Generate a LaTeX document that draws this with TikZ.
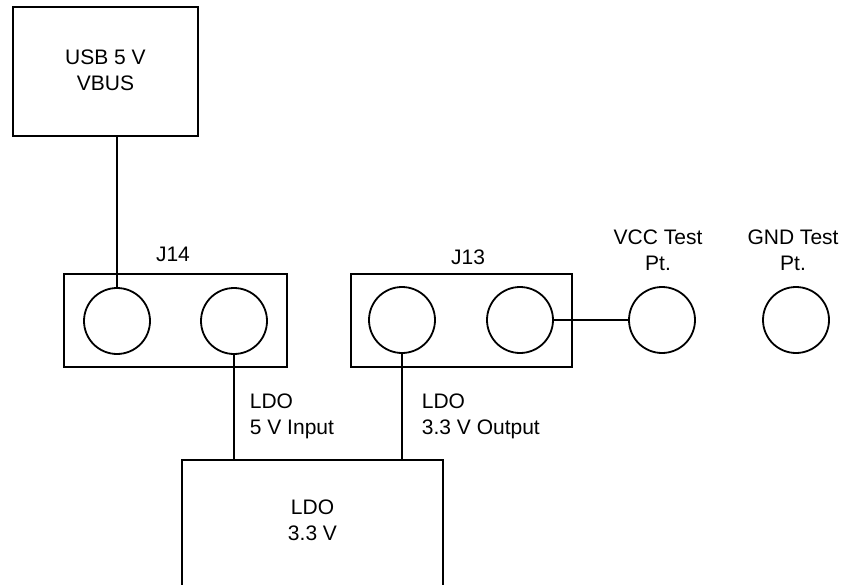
\documentclass[tikz,border=0pt]{standalone}
\usepackage{fontspec}
\setmainfont{Liberation Sans}

\begin{document}
\begin{tikzpicture}[x=1pt,y=-1pt,line width=1.8pt,
  font=\fontsize{21}{26}\selectfont,
  box/.style={draw,rectangle,inner sep=0pt},
  pin/.style={draw,circle,inner sep=0pt,minimum size=66pt},
  txt/.style={inner sep=0pt,align=center}]
  \useasboundingbox (0,0) rectangle (845,585);
  % boxes
  \node[box,minimum width=185pt,minimum height=129pt] (usb) at (105.5,71.5) {};
  \node[txt] (usbtext) at (105.5,70) {USB 5 V\\VBUS};
  \node[box,minimum width=223pt,minimum height=93pt] (j14) at (175.5,320.5) {};
  \node[box,minimum width=221pt,minimum height=93pt] (j13) at (461.5,320.5) {};
  \node[box,minimum width=261pt,minimum height=160pt,anchor=north] (ldo) at (312.5,459) {};
  \node[txt] (ldotext) at (312.5,520) {LDO\\3.3 V};
  % pins
  \node[pin] (j14a) at (117,321) {};
  \node[pin] (j14b) at (234,321) {};
  \node[pin] (j13a) at (402,320) {};
  \node[pin] (j13b) at (520,320) {};
  \node[pin] (vcc) at (662,320) {};
  \node[pin] (gnd) at (796,320) {};
  % labels
  \node[txt] (j14lbl) at (173,254) {J14};
  \node[txt] (j13lbl) at (468,257) {J13};
  \node[txt] (vcclbl) at (658,250) {VCC Test\\Pt.};
  \node[txt] (gndlbl) at (793,250) {GND Test\\Pt.};
  \node[txt,align=left,anchor=west] (inlbl) at (249,416) {LDO\\5 V Input};
  \node[txt,align=left,anchor=west] (outlbl) at (421,416) {LDO\\3.3 V Output};
  % wires
  \draw (j14a.north |- usb.south) -- (j14a.north);
  \draw (j14b.south) -- (j14b.south |- ldo.north);
  \draw (j13a.south) -- (j13a.south |- ldo.north);
  \draw (j13b.east) -- (vcc.west);
\end{tikzpicture}
\end{document}
